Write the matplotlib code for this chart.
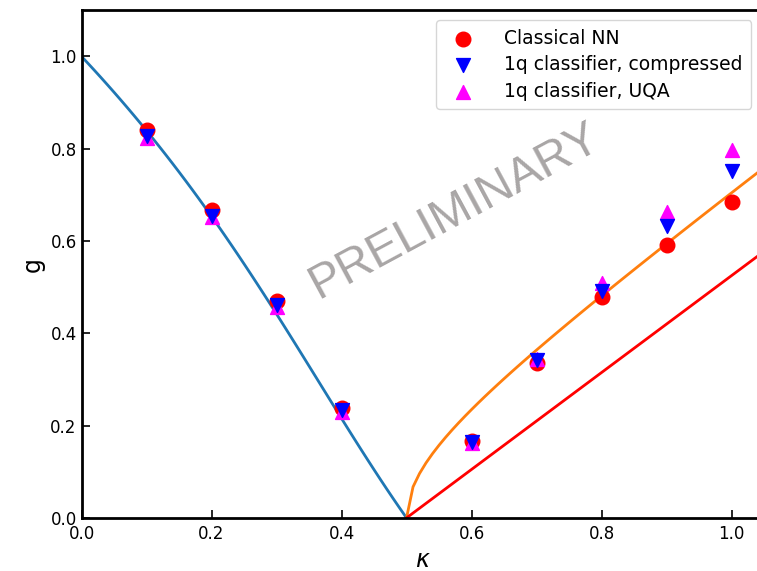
import numpy as np
import matplotlib
matplotlib.use("Agg")
import matplotlib.pyplot as plt

# Sampled couplings and classifier estimates of the transition line
kappa_pts = [0.1, 0.2, 0.3, 0.4, 0.6, 0.7, 0.8, 0.9, 1.0]
g_classical_nn = [0.841, 0.668, 0.471, 0.238, 0.166, 0.336, 0.479, 0.591, 0.685]
g_1q_compressed = [0.827, 0.654, 0.462, 0.233, 0.165, 0.342, 0.492, 0.633, 0.751]
g_1q_uqa = [0.824, 0.651, 0.458, 0.230, 0.163, 0.345, 0.510, 0.662, 0.798]

x_ticks = [0.0, 0.2, 0.4, 0.6, 0.8, 1.0]
y_ticks = [0.0, 0.2, 0.4, 0.6, 0.8, 1.0]


def g_ising(k):
    # ferro/para boundary (Ising line), kappa < 1/2
    return (1 - k) / k * (1 - np.sqrt((1 - 3 * k + 4 * k ** 2) / (1 - k)))


def g_kt(k):
    # Kosterlitz-Thouless line, kappa > 1/2
    return 1.05 * np.sqrt((k - 0.5) * (k - 0.1))


def g_bkt(k):
    # floating-phase lower boundary, kappa > 1/2
    return 1.05 * (k - 0.5)


k_left = np.linspace(1e-6, 0.5, 51)
k_right = np.arange(0.5, 1.0501, 0.01)

fig = plt.figure(figsize=(7.57, 5.71), dpi=100)
ax = fig.add_axes([0.1077, 0.093, 0.9016, 0.889])

ax.plot(k_left, g_ising(k_left), color="#1f77b4", lw=2.0)
ax.plot(k_right, g_kt(k_right), color="#ff7f0e", lw=2.0)
ax.plot(k_right, g_bkt(k_right), color="red", lw=2.0)

h_nn = ax.scatter(kappa_pts, g_classical_nn, s=110, marker="o", color="red", zorder=3)
h_uqa = ax.scatter(kappa_pts, g_1q_uqa, s=100, marker="^", color="magenta", zorder=4)
h_cmp = ax.scatter(kappa_pts, g_1q_compressed, s=100, marker="v", color="blue", zorder=5)

ax.legend([h_nn, h_cmp, h_uqa],
          ["Classical NN", "1q classifier, compressed", "1q classifier, UQA"],
          loc="upper right", fontsize=13.5, scatterpoints=1,
          borderpad=0.45, labelspacing=0.4, handletextpad=1.2,
          bbox_to_anchor=(0.995, 0.999))

ax.text(0.573, 0.664, "PRELIMINARY", rotation=28.3, color="#a9a6a6",
        fontsize=34.5, family="Liberation Sans", ha="center", va="center",
        zorder=1)

ax.set_xlim(0, 1.05)
ax.set_ylim(0, 1.1)
ax.set_xticks(x_ticks)
ax.set_yticks(y_ticks)
ax.tick_params(direction="in", labelsize=12, length=6, width=1.2)
ax.tick_params(axis="x", pad=5)
for sp in ax.spines.values():
    sp.set_linewidth(2)
ax.set_xlabel(r"$\kappa$", fontsize=17)
ax.set_ylabel("g", fontsize=17)

fig.savefig("out.png", dpi=100)
